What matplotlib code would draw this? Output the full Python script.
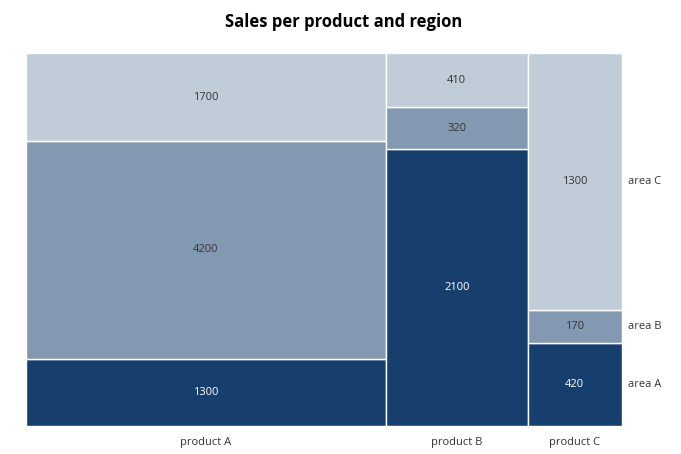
import matplotlib
matplotlib.use("Agg")
import matplotlib.pyplot as plt
import numpy as np

products = ["product A", "product B", "product C"]
areas = ["area A", "area B", "area C"]
area_a = [1300, 2100, 420]
area_b = [4200, 320, 170]
area_c = [1700, 410, 1300]
colors = ["#173f6e", "#8399b2", "#c0cdd9"]

plt.rcParams["font.family"] = "Open Sans"
fig = plt.figure(figsize=(6.81, 4.54), dpi=100)
ax = fig.add_axes([26/681, 28/454, 596/681, 373/454])
data = np.array([area_a, area_b, area_c], dtype=float)
totals = data.sum(axis=0)
widths = totals / totals.sum()
lefts = np.concatenate([[0], np.cumsum(widths)[:-1]])
for j in range(len(products)):
    bottom = 0
    for i in range(len(areas)):
        h = data[i, j] / totals[j]
        ax.bar(lefts[j], h, width=widths[j], bottom=bottom, align="edge",
               color=colors[i], edgecolor="white", linewidth=1)
        ax.text(lefts[j] + widths[j]/2, bottom + h/2, f"{int(data[i, j])}",
                ha="center", va="center", fontsize=8,
                color="white" if i == 0 else "#333333")
        if j == len(products) - 1:
            ax.text(1.01, bottom + h/2, areas[i], ha="left", va="center",
                    fontsize=8, color="#333333", transform=ax.transData)
        bottom += h
    ax.text(lefts[j] + widths[j]/2, -0.045, products[j], ha="center", va="center",
            fontsize=8, color="#333333")
ax.set_xlim(0, 1)
ax.set_ylim(0, 1)
ax.axis("off")
fig.text(344/681, 1 - 22/454, "Sales per product and region", ha="center", va="center",
         fontsize=12, fontweight="bold")
fig.savefig("out.png", dpi=100)
